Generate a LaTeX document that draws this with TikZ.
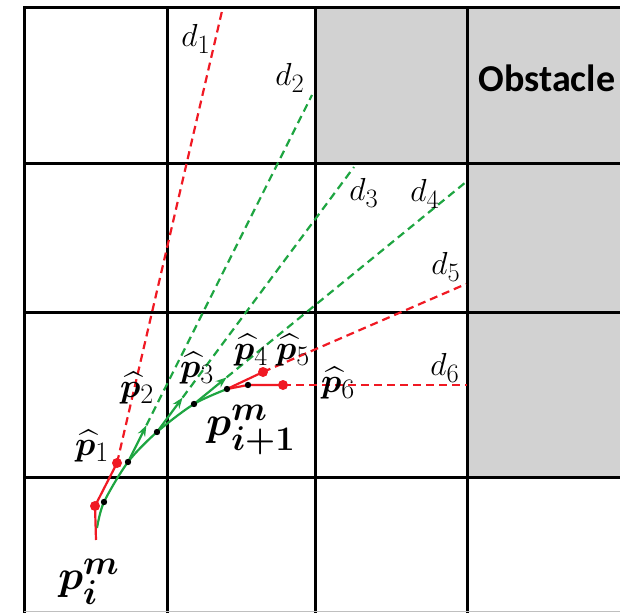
\documentclass[tikz,border=0pt]{standalone}
\usepackage{amsmath, amssymb}
\usepackage{bm}
\usepackage{fontspec}
\newfontfamily\obsfont{Carlito}
\usepackage{tikz}
\usetikzlibrary{arrows.meta, calc}
\definecolor{rayred}{RGB}{240,25,35}
\definecolor{raygreen}{RGB}{30,165,65}
\definecolor{obsgray}{RGB}{210,210,210}

\begin{document}
\begin{tikzpicture}[x=1pt, y=-1pt,
  gridline/.style={line width=3pt, line cap=rect},
  ray/.style={dash pattern=on 8pt off 5pt, line width=2.2pt},
  track/.style={line width=2.2pt},
  lab/.style={inner sep=0pt, font=\Huge, scale=1.28},
  hatlab/.style={inner sep=0pt, font=\Huge, scale=1.36},
  biglab/.style={inner sep=0pt, font=\Huge, scale=1.66}]
\useasboundingbox (0,0) rectangle (620,612);

% ========= 网格：障碍物 =========
\fill[obsgray] (315,8) rectangle (467,164);
\fill[obsgray] (467,8) rectangle (620,477);
\foreach \y in {8,164,312,477} \draw[gridline] (24,\y) -- (620,\y);
\foreach \x in {24,167,315,467} \draw[gridline] (\x,8) -- (\x,612);
\draw[gray!50, line width=0.8pt] (24,611) -- (620,611);
\node[font=\obsfont\bfseries\fontsize{38}{42}\selectfont] (obs) at (547,78) {Obstacle};

% ========= 轨迹上的点 =========
\coordinate (start) at (96,540);
\coordinate (g0) at (97,528);
\coordinate (r0) at (95,506);
\coordinate (b0) at (104,502);
\coordinate (r1) at (117,463);
\coordinate (b1) at (128,462);
\coordinate (b2) at (157,432);
\coordinate (b3) at (194,404);
\coordinate (b4) at (227,389);
\coordinate (b5) at (248,385);
\coordinate (r5) at (263,372);
\coordinate (r6) at (283,385);

% ========= 射线终点 d1..d6 =========
\coordinate (e1) at (222,11);
\coordinate (e2) at (312,95);
\coordinate (e3) at (354,167);
\coordinate (e4) at (466,182);
\coordinate (e5) at (466,284);
\coordinate (e6) at (467,385);
\coordinate (t2) at ($(b1)!0.1!(e2)$);
\coordinate (t3) at ($(b2)!0.13!(e3)$);
\coordinate (t4) at ($(b3)!0.12!(e4)$);

% ========= 射线 =========
\draw[ray, rayred] (r1) -- (e1);
\draw[ray, raygreen] (t2) -- (e2);
\draw[ray, raygreen] (t3) -- (e3);
\draw[ray, raygreen] (t4) -- (e4);
\draw[ray, rayred] (r5) -- (e5);
\draw[ray, rayred] (r6) -- (e6);

% ========= 轨迹 =========
\draw[track, raygreen] plot[smooth] coordinates {(g0) (b0) (b1) (b2) (b3) (b4)};
\draw[track, raygreen, -{Stealth[length=11pt, width=8pt]}] (b1) -- (t2);
\draw[track, raygreen, -{Stealth[length=11pt, width=8pt]}] (b2) -- (t3);
\draw[track, raygreen, -{Stealth[length=11pt, width=8pt]}] (b3) -- (t4);
\draw[track, rayred] (start) -- (r0) -- (r1);
\draw[track, rayred] (b4) -- (r5);
\draw[track, rayred] (b4) -- (b5) -- (r6);

\foreach \p in {r0,r1,r5,r6} \fill[rayred] (\p) circle (5);
\foreach \p in {b0,b1,b2,b3,b4,b5} \fill[black] (\p) circle (3.2);

% ========= 标注 =========
\node[lab] (d1) at (196,39) {$d_1$};
\node[lab] (d2) at (290,78) {$d_2$};
\node[lab] (d3) at (364,193) {$d_3$};
\node[lab] (d4) at (425,194) {$d_4$};
\node[lab] (d5) at (446,267) {$d_5$};
\node[lab] (d6) at (445,368) {$d_6$};
\node[hatlab] (ph1) at (92,446) {$\bm{\widehat{p}}_1$};
\node[hatlab] (ph2) at (137,388) {$\bm{\widehat{p}}_2$};
\node[hatlab] (ph3) at (197,368) {$\bm{\widehat{p}}_3$};
\node[hatlab] (ph4) at (251,350) {$\bm{\widehat{p}}_4$};
\node[hatlab] (ph5) at (293,350) {$\bm{\widehat{p}}_5$};
\node[hatlab] (ph6) at (338,383) {$\bm{\widehat{p}}_6$};
\node[biglab] (pnext) at (251,430) {$\bm{p}_{\bm{i+1}}^{\bm{m}}$};
\node[biglab] (pim) at (89,582) {$\bm{p}_{\bm{i}}^{\bm{m}}$};
\end{tikzpicture}
\end{document}
